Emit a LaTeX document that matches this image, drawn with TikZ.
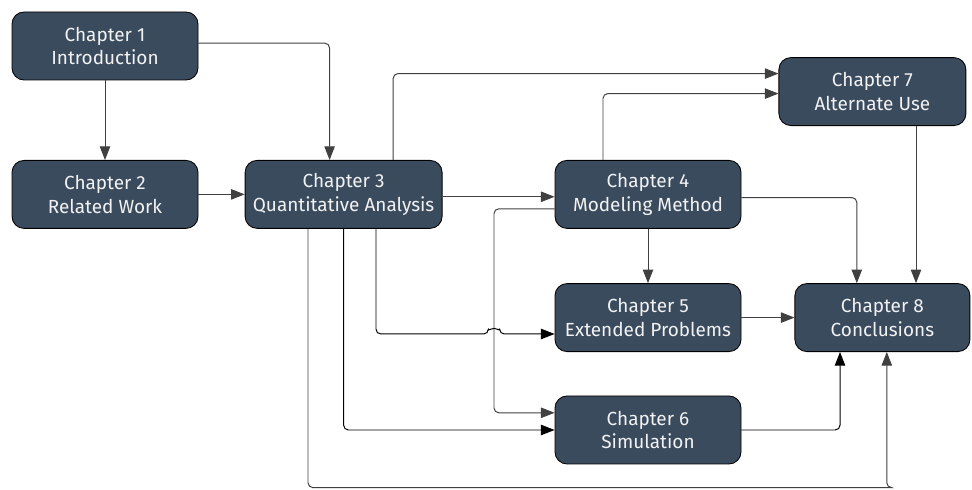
\documentclass[tikz,border=0pt]{standalone}
\usepackage{fontspec}
\setmainfont{Fira Sans}
\usepackage{tikz}
\usetikzlibrary{arrows.meta,positioning,calc}
\definecolor{slate}{HTML}{3A4B5E}
\definecolor{pale}{HTML}{F2F2F2}

\begin{document}
\begin{tikzpicture}[
    chapter/.style={draw=black, line width=0.6pt, fill=slate, rounded corners=0.3cm,
      minimum height=1.7cm, text=pale, align=center, inner sep=0pt,
      font=\fontsize{13.5}{17}\selectfont},
    link/.style={draw=black!75, line width=0.7pt, rounded corners=0.12cm,
      -{Triangle[length=0.34cm, width=0.26cm]}}
  ]
    \useasboundingbox (0, 0) rectangle (24.3, 12.25);

    \node[chapter, minimum width=4.65cm] (ch1) at (2.625, 11.1) {Chapter 1\\Introduction};
    \node[chapter, minimum width=4.65cm] (ch2) at (2.625, 7.39) {Chapter 2\\Related Work};
    \node[chapter, minimum width=4.925cm] (ch3) at (8.59, 7.39) {Chapter 3\\Quantitative Analysis};
    \node[chapter, minimum width=4.65cm] (ch4) at (16.2, 7.39) {Chapter 4\\Modeling Method};
    \node[chapter, minimum width=4.65cm] (ch5) at (16.2, 4.31) {Chapter 5\\Extended Problems};
    \node[chapter, minimum width=4.65cm] (ch6) at (16.2, 1.5) {Chapter 6\\Simulation};
    \node[chapter, minimum width=4.675cm] (ch7) at (21.81, 9.96) {Chapter 7\\Alternate Use};
    \node[chapter, minimum width=4.375cm] (ch8) at (22.06, 4.31) {Chapter 8\\Conclusions};

    \coordinate (cross) at (12.35, 3.9);
    \coordinate (low) at (22.17, 0.06);

    \draw[link] (ch1) -- (ch2);
    \draw[link] ([yshift=0.07cm]ch1.east) -| ([xshift=-0.35cm]ch3.north);
    \draw[link] (ch2) -- (ch3);
    \draw[link] ([yshift=-0.06cm]ch3.east) -- ([yshift=-0.06cm]ch4.west);
    \draw[link] ([xshift=1.24cm]ch3.north) |- ([yshift=0.45cm]ch7.west);
    \draw[link] ([xshift=-1.125cm]ch4.north) |- ([yshift=-0.05cm]ch7.west);
    \draw[link] ([yshift=-0.36cm]ch4.west) -| (cross) |- ([yshift=0.43cm]ch6.west);
    \draw[link, draw=black] ([xshift=0.81cm]ch3.south) |- ([xshift=-0.14cm]cross)
      arc[start angle=180, end angle=0, radius=0.14cm] -- ([yshift=-0.41cm]ch5.west);
    \draw[link, draw=black] (ch3.south) |- (ch6.west);
    \draw[link] ([xshift=-0.89cm]ch3.south) |- (low) -| ([xshift=0.11cm]ch8.south);
    \draw[link] (ch4) -- (ch5);
    \draw[link] ([yshift=-0.08cm]ch4.east) -| ([xshift=-0.64cm]ch8.north);
    \draw[link] ([xshift=1.09cm]ch7.south) -- ([xshift=0.84cm]ch8.north);
    \draw[link] (ch5) -- (ch8);
    \draw[link, draw=black] (ch6.east) -| ([xshift=-1.06cm]ch8.south);
  \end{tikzpicture}
\end{document}
